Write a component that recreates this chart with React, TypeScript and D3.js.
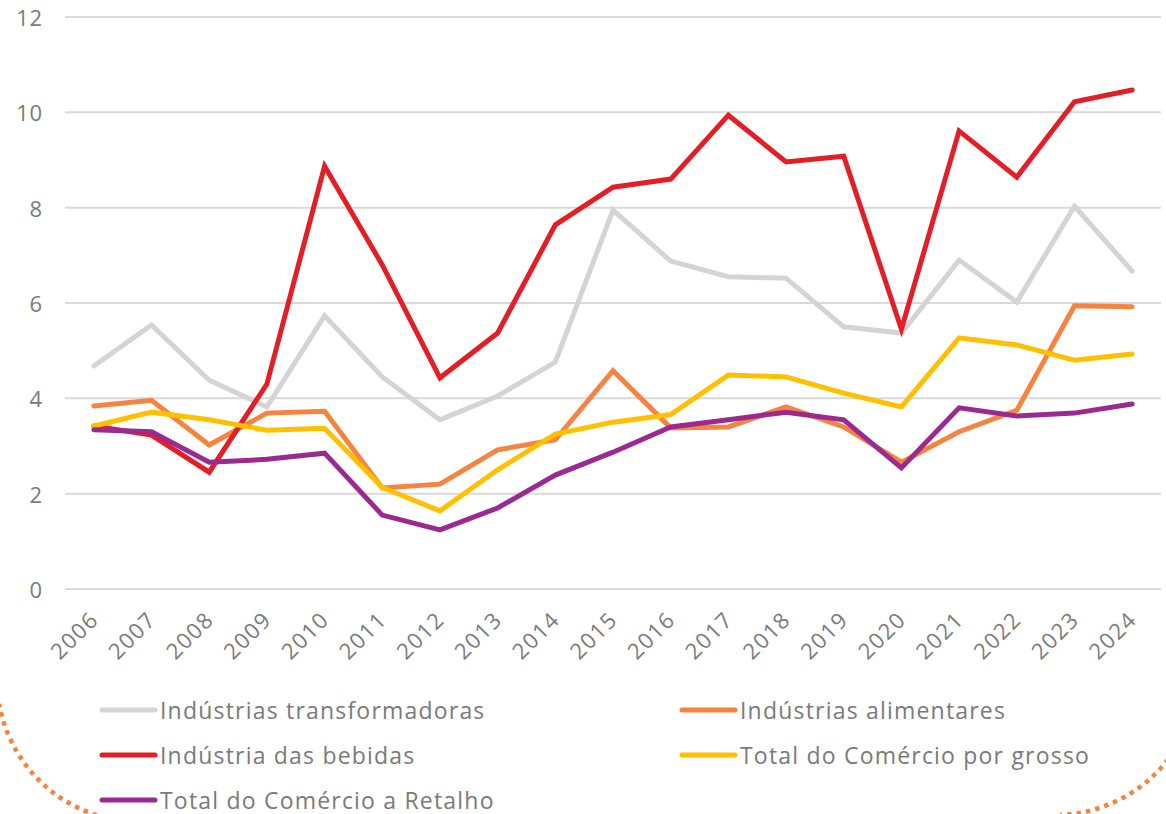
import { useMemo } from 'react';
import * as d3 from 'd3';

const WIDTH = 1166;
const HEIGHT = 814;
const MARGIN = { top: 17, right: 5, bottom: 225, left: 65 };

const years = ['2006', '2007', '2008', '2009', '2010', '2011', '2012', '2013', '2014', '2015',
    '2016', '2017', '2018', '2019', '2020', '2021', '2022', '2023', '2024'];

const yTicks = [0, 2, 4, 6, 8, 10, 12];

const transformadoras = [4.68, 5.54, 4.38, 3.82, 5.73, 4.45, 3.55, 4.05, 4.76, 7.95,
    6.88, 6.55, 6.52, 5.5, 5.37, 6.9, 6.02, 8.03, 6.67];
const alimentares = [3.84, 3.96, 3.02, 3.69, 3.73, 2.12, 2.2, 2.92, 3.13, 4.58,
    3.38, 3.4, 3.82, 3.4, 2.66, 3.3, 3.75, 5.94, 5.92];
const bebidas = [3.42, 3.23, 2.45, 4.3, 8.87, 6.8, 4.43, 5.37, 7.64, 8.43,
    8.6, 9.94, 8.96, 9.08, 5.45, 9.61, 8.64, 10.22, 10.47];
const grosso = [3.42, 3.71, 3.55, 3.33, 3.37, 2.13, 1.64, 2.5, 3.25, 3.5,
    3.66, 4.49, 4.45, 4.11, 3.82, 5.27, 5.12, 4.8, 4.93];
const retalho = [3.34, 3.3, 2.66, 2.72, 2.85, 1.55, 1.24, 1.7, 2.39, 2.87,
    3.4, 3.55, 3.71, 3.55, 2.54, 3.8, 3.63, 3.69, 3.88];

const series = [
    { name: 'Indústrias transformadoras', values: transformadoras, color: '#d4d4d4' },
    { name: 'Indústrias alimentares', values: alimentares, color: '#f4843f' },
    { name: 'Indústria das bebidas', values: bebidas, color: '#e31e26' },
    { name: 'Total do Comércio por grosso', values: grosso, color: '#ffc000' },
    { name: 'Total do Comércio a Retalho', values: retalho, color: '#9b2a90' },
];

const FONT = '"Open Sans", sans-serif';
const TEXT = '#7a7a7a';
const DOTS = '#f4843f';

const App = () => {
    const boundsWidth = WIDTH - MARGIN.left - MARGIN.right;
    const boundsHeight = HEIGHT - MARGIN.top - MARGIN.bottom;

    const xScale = useMemo(
        () => d3.scalePoint().domain(years).range([0, boundsWidth]).padding(0.5),
        [boundsWidth]
    );
    const yScale = useMemo(
        () => d3.scaleLinear().domain([0, 12]).range([boundsHeight, 0]),
        [boundsHeight]
    );

    const lineBuilder = d3
        .line<number>()
        .x((_, i) => xScale(years[i]) ?? 0)
        .y((d) => yScale(d));

    // decorative dotted arcs in the bottom corners
    const leftArc = d3.path();
    leftArc.arc(140, 679, 143, (100 * Math.PI) / 180, (170 * Math.PI) / 180);
    const rightArc = d3.path();
    rightArc.arc(1055, 672, 143, (30 * Math.PI) / 180, (88 * Math.PI) / 180);

    const legendCols = [100, 680];
    const legendRows = [710, 755, 800];

    return (
        <svg
            width={WIDTH}
            height={HEIGHT}
            style={{ position: 'absolute', left: 0, top: 0, background: '#fff' }}
            fontFamily={FONT}
        >
            <path d={leftArc.toString()} fill="none" stroke={DOTS} strokeWidth={4.5} strokeDasharray="4.5 5" />
            <path d={rightArc.toString()} fill="none" stroke={DOTS} strokeWidth={4.5} strokeDasharray="4.5 5" />

            <g transform={`translate(${MARGIN.left},${MARGIN.top})`}>
                {yTicks.map((t) => (
                    <g key={t}>
                        <line x1={0} x2={boundsWidth} y1={yScale(t)} y2={yScale(t)} stroke="#d9d9d9" strokeWidth={2} />
                        <text
                            x={-22}
                            y={yScale(t)}
                            textAnchor="end"
                            dominantBaseline="central"
                            fontSize={22}
                            letterSpacing={0.8}
                            fill={TEXT}
                        >
                            {t}
                        </text>
                    </g>
                ))}

                {years.map((y) => (
                    <text
                        key={y}
                        transform={`translate(${(xScale(y) ?? 0) + 6},${boundsHeight + 32}) rotate(-45)`}
                        textAnchor="end"
                        fontSize={22}
                        letterSpacing={1.5}
                        fill={TEXT}
                    >
                        {y}
                    </text>
                ))}

                {series.map((s) => (
                    <path
                        key={s.name}
                        d={lineBuilder(s.values) ?? ''}
                        fill="none"
                        stroke={s.color}
                        strokeWidth={5}
                        strokeLinejoin="miter"
                        strokeLinecap="round"
                    />
                ))}
            </g>

            {series.map((s, i) => {
                const lx = legendCols[i % 2];
                const ly = legendRows[Math.floor(i / 2)];
                return (
                    <g key={s.name}>
                        <line x1={lx + 2} x2={lx + 55} y1={ly} y2={ly} stroke={s.color} strokeWidth={5} strokeLinecap="round" />
                        <text x={lx + 60} y={ly} dominantBaseline="central" fontSize={23} letterSpacing={1.2} fill={TEXT}>
                            {s.name}
                        </text>
                    </g>
                );
            })}
        </svg>
    );
};

export default App;
